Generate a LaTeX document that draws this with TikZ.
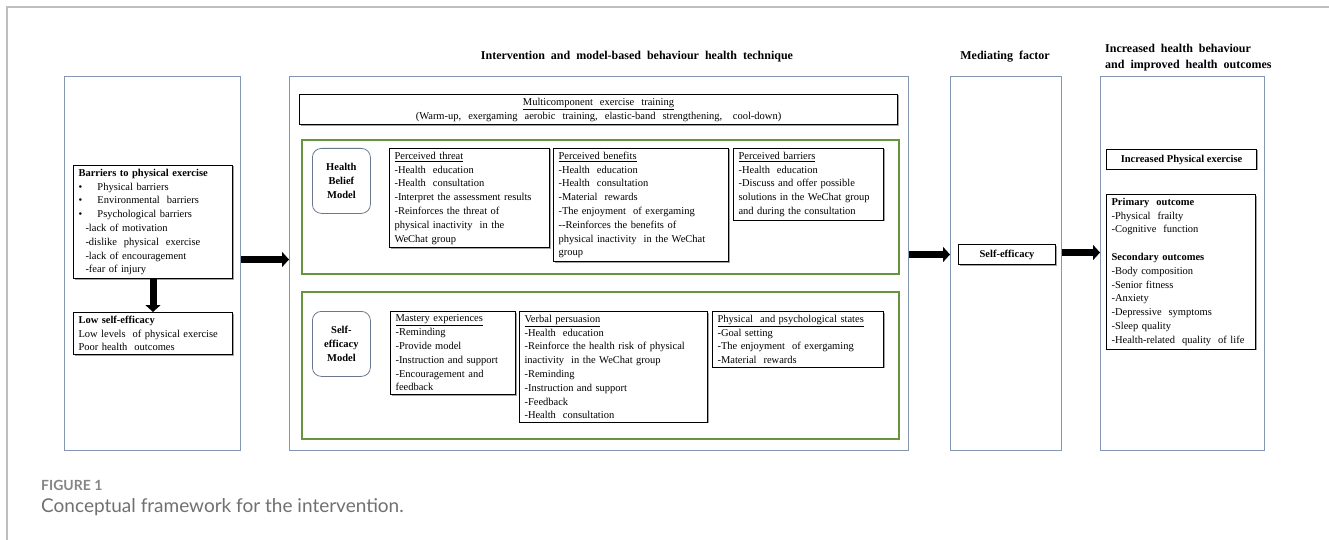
\documentclass[tikz,border=0pt]{standalone}
\usepackage{fontspec}
\setmainfont{Liberation Serif}
\newfontfamily\capfont{Lato}
\usetikzlibrary{arrows.meta}
\usetikzlibrary{shadows}
\definecolor{panelblue}{RGB}{132,150,176}
\definecolor{modelgreen}{RGB}{104,148,62}
\definecolor{framegray}{RGB}{190,190,190}
\definecolor{capgray}{RGB}{112,112,112}
\newcommand{\bodyfont}{\fontsize{10.5}{13.8}\selectfont}
\newcommand{\headfont}{\fontsize{12}{16}\selectfont\bfseries}
\tikzset{panel/.style = {draw=panelblue, line width=1pt, anchor=north west, inner sep=0}}
\tikzset{grouping/.style = {draw=modelgreen, line width=1.6pt, anchor=north west, inner sep=0}}
\tikzset{textbox/.style = {draw, fill=white, line width=1pt, anchor=north west, align=left,
                           inner xsep=5pt, inner ysep=3.5pt, font=\bodyfont,
                           drop shadow={shadow xshift=1pt, shadow yshift=-1pt, fill=black!60, opacity=0.6}}}
\tikzset{modelbox/.style = {draw=panelblue!80!black, line width=0.8pt, rounded corners=9pt, anchor=north west,
                            align=center, minimum width=58pt, minimum height=65pt, font=\bodyfont\bfseries}}
\tikzset{bigarrow/.style = {line width=7pt, -{Triangle[length=7pt, width=15pt]}}}

\begin{document}
\begin{tikzpicture}[x=1pt, y=-1pt]
  \useasboundingbox (0,0) rectangle (1329,540);
  \draw [framegray, line width=1.5pt] (7,540) -- (7,7) -- (1329,7);

  \node [panel, minimum width=176pt, minimum height=374pt] (lpanel) at (64,76) {};
  \node [textbox, text width=149pt] (barriers) at (73,165)
    {\textbf{Barriers to physical exercise}\\
     \makebox[19pt][l]{\textbullet}Physical barriers\\
     \makebox[19pt][l]{\textbullet}Environmental\ \ barriers\\
     \makebox[19pt][l]{\textbullet}Psychological barriers\\
     \hspace*{7pt}-lack of motivation\\
     \hspace*{7pt}-dislike\ \ physical\ \ exercise\\
     \hspace*{7pt}-lack of encouragement\\
     \hspace*{7pt}-fear of injury};
  \node [textbox, text width=149pt] (lowse) at (73,312)
    {\textbf{Low self-efficacy}\\
     Low levels\ \ of physical exercise\\
     Poor health\ \ outcomes};

  \node [font=\headfont] (mphead) at (637,57) {Intervention\ \ and\ \ model-based\ \ behaviour\ \ health\ \ technique};
  \node [panel, minimum width=619pt, minimum height=374pt] (mpanel) at (289,76) {};
  \node [textbox, text width=588pt, align=center] (multi) at (299,94)
    {\underline{Multicomponent\ \ exercise\ \ training}\\
     (Warm-up,\ \ exergaming\ \ aerobic\ \ training,\ \ elastic-band\ \ strengthening,\ \ \ cool-down)};

  \node [grouping, minimum width=597pt, minimum height=134pt] (hbm) at (301,139) {};
  \node [modelbox] (hbmodel) at (312,148) {Health\\Belief\\Model};
  \node [textbox, text width=150pt] (threat) at (389,148)
    {\underline{Perceived threat}\\
     -Health\ \ education\\
     -Health\ \ consultation\\
     -Interpret the assessment results\\
     -Reinforces the threat of\\
     physical inactivity\ \ in the\\
     WeChat group};
  \node [textbox, text width=165pt] (benefit) at (553,148)
    {\underline{Perceived benefits}\\
     -Health\ \ education\\
     -Health\ \ consultation\\
     -Material\ \ rewards\\
     -The enjoyment\ \ of exergaming\\
     -{}-Reinforces the benefits of\\
     physical inactivity\ \ in the WeChat\\
     group};
  \node [textbox, text width=140pt] (hbarrier) at (733,148)
    {\underline{Perceived barriers}\\
     -Health\ \ education\\
     -Discuss and offer possible\\
     solutions in the WeChat group\\
     and during the consultation};

  \node [grouping, minimum width=597pt, minimum height=147pt] (sem) at (301,291) {};
  \node [modelbox] (semodel) at (312,311) {Self-\\efficacy\\Model};
  \node [textbox, text width=115pt] (mastery) at (390,311)
    {\underline{Mastery experiences}\\
     -Reminding\\
     -Provide model\\
     -Instruction and support\\
     -Encouragement and\\
     feedback};
  \node [textbox, text width=178pt] (verbal) at (519,311)
    {\underline{Verbal persuasion}\\
     -Health\ \ education\\
     -Reinforce the health risk of physical\\
     inactivity\ \ in the WeChat group\\
     -Reminding\\
     -Instruction and support\\
     -Feedback\\
     -Health\ \ consultation};
  \node [textbox, text width=161pt] (states) at (712,311)
    {\underline{Physical\ \ and psychological states}\\
     -Goal setting\\
     -The enjoyment\ \ of exergaming\\
     -Material\ \ rewards};

  \node [font=\headfont] (medhead) at (1005,57) {Mediating\ \ factor};
  \node [panel, minimum width=111pt, minimum height=374pt] (medpanel) at (950,76) {};
  \node [textbox, minimum width=97pt, minimum height=20pt, align=center, font=\bodyfont\bfseries] (selfeff) at (958,244) {Self-efficacy};

  \node [font=\headfont, anchor=north west, align=left, inner sep=0] (rhead) at (1105,44)
    {Increased\ \ health\ \ behaviour\\and\ \ improved\ \ health\ \ outcomes};
  \node [panel, minimum width=164pt, minimum height=374pt] (rpanel) at (1100,76) {};
  \node [textbox, minimum width=150pt, minimum height=20pt, align=center, font=\bodyfont\bfseries] (incpe) at (1106,149) {Increased Physical exercise};
  \node [textbox, text width=139pt] (outcome) at (1106,194)
    {\textbf{Primary\ \ outcome}\\
     -Physical\ \ frailty\\
     -Cognitive\ \ function\\[13.8pt]
     \textbf{Secondary outcomes}\\
     -Body composition\\
     -Senior fitness\\
     -Anxiety\\
     -Depressive\ \ symptoms\\
     -Sleep quality\\
     -Health-related\ \ quality\ \ of life};

  \draw [bigarrow] (barriers.south) -- (lowse.north);
  \draw [bigarrow] ([yshift=4pt]lpanel.east) -- ([yshift=4pt]mpanel.west);
  \draw [bigarrow] ([yshift=9pt]mpanel.east) -- ([yshift=9pt]medpanel.west);
  \draw [bigarrow] ([yshift=11pt]medpanel.east) -- ([yshift=11pt]rpanel.west);

  \node [anchor=base west, inner sep=0, text=capgray!85, font=\capfont\bfseries\fontsize{14}{16}\selectfont] (fignum) at (41,490) {FIGURE 1};
  \node [anchor=base west, inner sep=0, text=capgray, font=\capfont\fontsize{19}{21}\selectfont] (figcap) at (41,512) {Conceptual framework for the intervention.};
\end{tikzpicture}
\end{document}
